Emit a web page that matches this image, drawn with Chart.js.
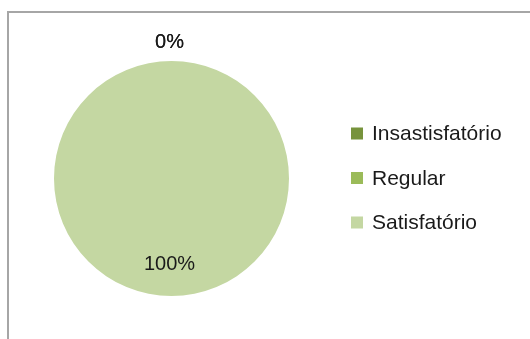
<!DOCTYPE html>
<html>
<head>
<meta charset="utf-8">
<script src="https://cdn.jsdelivr.net/npm/chart.js@4"></script>
<style>
  html, body { margin: 0; padding: 0; background: #fff; }
  #wrap { position: relative; width: 530px; height: 339px; overflow: hidden; }
  #frame {
    position: absolute; left: 7px; top: 11px; width: 540px; height: 350px;
    border: 2px solid #a6a6a6; box-sizing: border-box;
  }
  #chart { position: absolute; left: 0; top: 0; }
</style>
</head>
<body>
<div id="wrap">
  <div id="frame"></div>
  <canvas id="chart" width="530" height="339"></canvas>
</div>
<script>
const categories = ["Insastisfatório", "Regular", "Satisfatório"];
const values = [0, 0, 100];
const colors = ["#77933C", "#9BBB59", "#C4D7A2"];

// percent labels on slices, zero slices go outside on top
const pctLabels = {
  id: "pctLabels",
  afterDatasetsDraw(chart) {
    const ctx = chart.ctx;
    const meta = chart.getDatasetMeta(0);
    const total = values.reduce((a, b) => a + b, 0);
    ctx.save();
    ctx.font = "20px 'Liberation Sans'";
    ctx.fillStyle = "#1a1a1a";
    ctx.textAlign = "center";
    ctx.textBaseline = "middle";
    meta.data.forEach((arc, i) => {
      const p = arc.getProps(["x", "y", "startAngle", "endAngle", "outerRadius"], true);
      const mid = (p.startAngle + p.endAngle) / 2;
      const r = values[i] === 0 ? p.outerRadius * 1.16 : p.outerRadius * 0.735;
      const x = p.x + Math.cos(mid) * r - 2;
      const y = p.y + Math.sin(mid) * r;
      ctx.fillText(Math.round((values[i] / total) * 100) + "%", x, y);
    });
    ctx.restore();
  },
};

// legend on the right, drawn from labels and colours
const sideLegend = {
  id: "sideLegend",
  afterDraw(chart, args, opts) {
    const ctx = chart.ctx;
    ctx.save();
    ctx.font = "21px 'Liberation Sans'";
    ctx.textBaseline = "middle";
    categories.forEach((c, i) => {
      const cy = opts.top + i * opts.step;
      ctx.fillStyle = colors[i];
      ctx.fillRect(opts.left, cy - 6, 12, 12);
      ctx.fillStyle = "#1a1a1a";
      ctx.fillText(c, opts.left + 21, cy + 1);
    });
    ctx.restore();
  },
};

const ctx = document.getElementById("chart").getContext("2d");
new Chart(ctx, {
  type: "pie",
  data: {
    labels: categories,
    datasets: [
      {
        data: values,
        backgroundColor: colors,
        borderWidth: 0,
      },
    ],
  },
  options: {
    responsive: false,
    animation: false,
    layout: {
      padding: { left: 54, right: 241, top: 61, bottom: 43 },
    },
    plugins: {
      legend: { display: false },
      tooltip: { enabled: false },
      sideLegend: { left: 351, top: 133.5, step: 44.5 },
    },
  },
  plugins: [pctLabels, sideLegend],
});
</script>
</body>
</html>
